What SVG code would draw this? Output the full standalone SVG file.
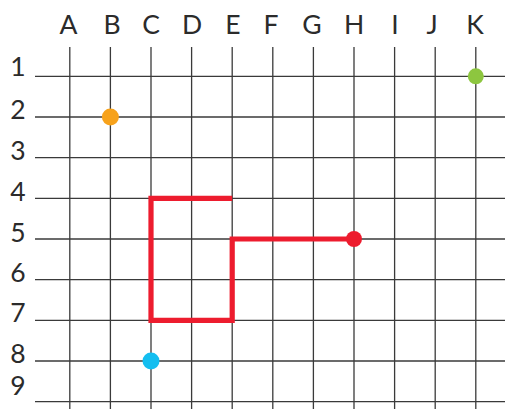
<svg xmlns="http://www.w3.org/2000/svg" width="505" height="409" viewBox="0 0 505 409">
<style>
.grid line{stroke:#3a3a3a;stroke-width:1.3}
.lbl{font-family:Lato,"Noto Sans","Liberation Sans",sans-serif;font-weight:400;font-size:26.5px;fill:#2b2b2b;text-anchor:middle}
</style>
<rect width="505" height="409" fill="#fff"/>
<g id="grid" class="grid">
<line x1="69.8" y1="47" x2="69.8" y2="409"/>
<line x1="110.4" y1="47" x2="110.4" y2="409"/>
<line x1="151" y1="47" x2="151" y2="409"/>
<line x1="191.6" y1="47" x2="191.6" y2="409"/>
<line x1="232.2" y1="47" x2="232.2" y2="409"/>
<line x1="272.8" y1="47" x2="272.8" y2="409"/>
<line x1="313.4" y1="47" x2="313.4" y2="409"/>
<line x1="354" y1="47" x2="354" y2="409"/>
<line x1="394.6" y1="47" x2="394.6" y2="409"/>
<line x1="435.2" y1="47" x2="435.2" y2="409"/>
<line x1="475.8" y1="47" x2="475.8" y2="409"/>
<line x1="35" y1="76.3" x2="505" y2="76.3"/>
<line x1="35" y1="117" x2="505" y2="117"/>
<line x1="35" y1="157.7" x2="505" y2="157.7"/>
<line x1="35" y1="198.3" x2="505" y2="198.3"/>
<line x1="35" y1="239" x2="505" y2="239"/>
<line x1="35" y1="279.7" x2="505" y2="279.7"/>
<line x1="35" y1="320.4" x2="505" y2="320.4"/>
<line x1="35" y1="361" x2="505" y2="361"/>
<line x1="35" y1="401.7" x2="505" y2="401.7"/>
</g>
<g id="col-labels">
<text class="lbl" x="68.5" y="33.5">A</text>
<text class="lbl" x="112" y="33.5">B</text>
<text class="lbl" x="151" y="33.5">C</text>
<text class="lbl" x="192" y="33.5">D</text>
<text class="lbl" x="233" y="33.5">E</text>
<text class="lbl" x="271" y="33.5">F</text>
<text class="lbl" x="312" y="33.5">G</text>
<text class="lbl" x="354" y="33.5">H</text>
<text class="lbl" x="395" y="33.5">I</text>
<text class="lbl" x="432" y="33.5">J</text>
<text class="lbl" x="475" y="33.5">K</text>
</g>
<g id="row-labels">
<text class="lbl" x="18" y="76">1</text>
<text class="lbl" x="18" y="119">2</text>
<text class="lbl" x="18" y="160">3</text>
<text class="lbl" x="18" y="201">4</text>
<text class="lbl" x="18" y="241.5">5</text>
<text class="lbl" x="18" y="282">6</text>
<text class="lbl" x="18" y="322">7</text>
<text class="lbl" x="18" y="363">8</text>
<text class="lbl" x="18" y="395">9</text>
</g>
<g id="connectors">
<polyline points="232.2,198.3 151,198.3 151,320.4 232.2,320.4 232.2,239 354,239" fill="none" stroke="#ED1C2E" stroke-width="5.2"/>
</g>
<g id="red-dot"><circle cx="354" cy="239" r="8" fill="#ED1C2E"/></g>
<g id="orange-dot"><circle cx="110.4" cy="117" r="8.5" fill="#F7A21B"/></g>
<g id="green-dot"><circle cx="475.8" cy="76.3" r="8" fill="#8DC63F"/></g>
<g id="blue-dot"><circle cx="151" cy="361" r="8.5" fill="#14BEF0"/></g>
</svg>
